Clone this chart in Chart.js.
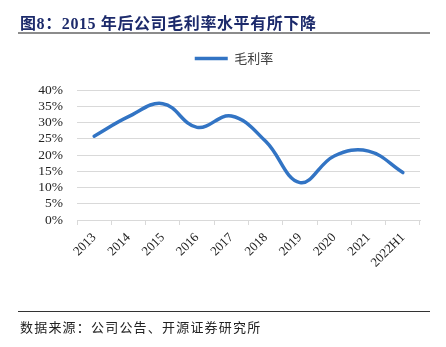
<!DOCTYPE html>
<html lang="zh">
<head>
  <meta charset="UTF-8">
  <title>毛利率</title>
  <script src="https://cdn.jsdelivr.net/npm/chart.js"></script>
  <style>
    body { margin: 0; background: #fff; }
    #wrap { position: relative; width: 446px; height: 347px; }
    canvas { position: absolute; left: 0; top: 0; }
    #title {
      position: absolute; left: 20px; top: 10px;
      font-family: "Liberation Serif", "Noto Sans CJK SC", serif;
      font-weight: bold; font-size: 16px; color: #1c2a6b; letter-spacing: 0.6px;
      white-space: nowrap;
    }
    #rule1 { position: absolute; left: 18px; width: 412px; top: 32px; height: 2px; background: #8c8c8c; }
    #rule2 { position: absolute; left: 18px; width: 412px; top: 311px; height: 1px; background: #333; }
    #source {
      position: absolute; left: 20px; top: 317px;
      font-family: "Noto Sans CJK SC", sans-serif; font-size: 13px; color: #222; letter-spacing: 1.2px;
      white-space: nowrap;
    }
  </style>
</head>
<body>
  <div id="wrap">
    <canvas id="c" width="446" height="347"></canvas>
    <div id="title">图8：2015 年后公司毛利率水平有所下降</div>
    <div id="rule1"></div>
    <div id="rule2"></div>
    <div id="source">数据来源：公司公告、开源证券研究所</div>
  </div>
  <script>
    // 数据
    const years = ["2013", "2014", "2015", "2016", "2017", "2018", "2019", "2020", "2021", "2022H1"];
    const grossMargin = [25.8, 31.8, 35.8, 28.5, 32.0, 24.2, 11.5, 19.7, 21.2, 14.6];
    const yTicks = [0, 5, 10, 15, 20, 25, 30, 35, 40];

    const serif = "'Liberation Serif', 'Times New Roman', serif";

    // 图例整体右移一点，和原图位置对齐
    const shiftLegend = {
      id: "shiftLegend",
      afterLayout(chart) {
        chart.legend.left += 24;
        chart.legend.right += 24;
      }
    };

    new Chart(document.getElementById("c"), {
      type: "line",
      data: {
        labels: years,
        datasets: [{
          label: "毛利率",
          data: grossMargin,
          borderColor: "#3274c4",
          backgroundColor: "#3274c4",
          borderWidth: 3.5,
          borderCapStyle: "round",
          pointRadius: 0,
          tension: 0.4,
          fill: false
        }]
      },
      options: {
        responsive: false,
        animation: false,
        layout: { padding: { left: 0, right: 26, top: 26, bottom: 47 } },
        plugins: {
          tooltip: { enabled: false },
          legend: {
            position: "top",
            labels: {
              usePointStyle: true,
              pointStyle: "line",
              pointStyleWidth: 33,
              padding: 26,
              color: "#404040",
              font: { family: "'Noto Sans CJK SC', sans-serif", size: 13 }
            }
          },
          // 空标题，只用来在图例和绘图区之间留空
          title: {
            display: true, text: "", weight: 500,
            padding: { top: 0, bottom: 5 },
            font: { size: 10, lineHeight: 1 }
          }
        },
        scales: {
          x: {
            offset: true,
            grid: { offset: true, drawOnChartArea: false, drawTicks: true, tickLength: 5, color: "#d9d9d9" },
            border: { color: "#d9d9d9" },
            ticks: {
              minRotation: 45, maxRotation: 45, padding: 5,
              color: "#222", font: { family: serif, size: 13 }
            },
            afterFit: s => { s.height = 80; }
          },
          y: {
            min: 0, max: 40,
            grid: { color: "#d9d9d9", drawTicks: false },
            border: { display: false },
            afterBuildTicks: s => { s.ticks = yTicks.map(v => ({ value: v })); },
            ticks: {
              autoSkip: false,
              padding: 14,
              color: "#222", font: { family: serif, size: 13.5 },
              callback: v => v + "%"
            },
            afterFit: s => { s.width = 77; }
          }
        }
      },
      plugins: [shiftLegend]
    });
  </script>
</body>
</html>
